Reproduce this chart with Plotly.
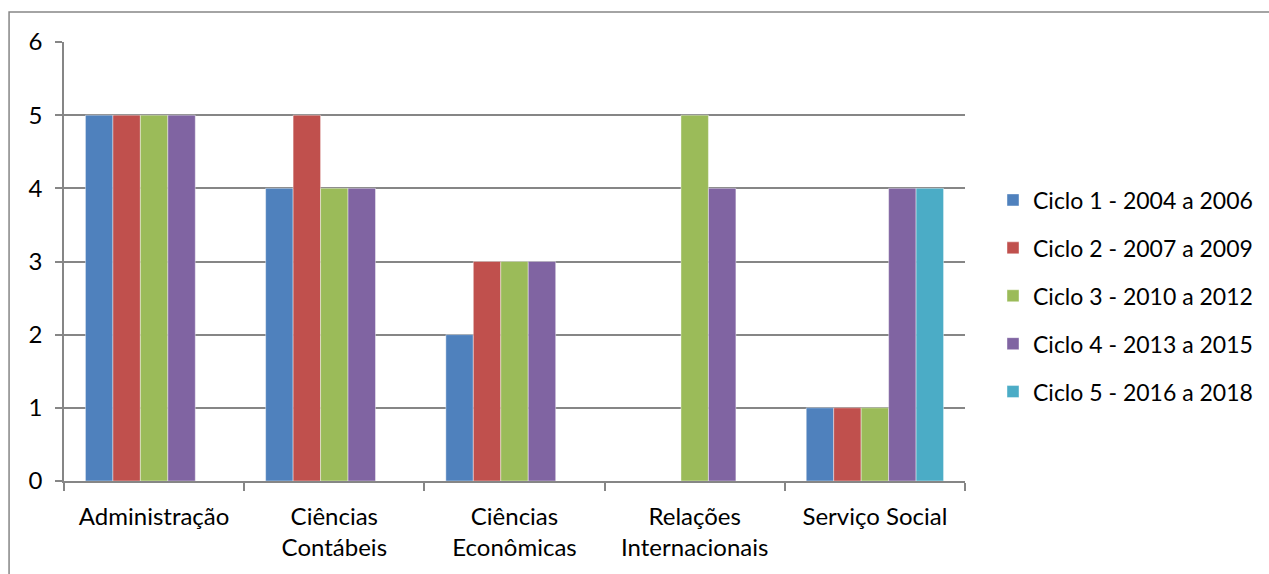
import plotly.graph_objects as go

categories = ["Administração", "Ciências<br>Contábeis", "Ciências<br>Econômicas",
              "Relações<br>Internacionais", "Serviço Social"]
series_names = ["Ciclo 1 - 2004 a 2006", "Ciclo 2 - 2007 a 2009", "Ciclo 3 - 2010 a 2012",
                "Ciclo 4 - 2013 a 2015", "Ciclo 5 - 2016 a 2018"]
ciclo1 = [5, 4, 2, None, 1]
ciclo2 = [5, 5, 3, None, 1]
ciclo3 = [5, 4, 3, 5, 1]
ciclo4 = [5, 4, 3, 4, 4]
ciclo5 = [None, None, None, None, 4]
colors = ["#4F81BD", "#C0504D", "#9BBB59", "#8064A2", "#4BACC6"]

FONT = "Lato"
fig = go.Figure()
for i, (name, vals) in enumerate(zip(series_names, [ciclo1, ciclo2, ciclo3, ciclo4, ciclo5])):
    fig.add_trace(go.Bar(x=categories, y=vals, name=name, legendgroup=f"g{i}",
                         marker=dict(color=colors[i], line=dict(color="rgba(255,255,255,0.6)", width=0.7))))

W, H = 1269, 574
L, R, T, B = 64, 966, 42, 481
pw, ph = R - L, B - T

fig.update_layout(
    width=W, height=H,
    margin=dict(l=L, r=W - R, t=T, b=H - B),
    paper_bgcolor="white", plot_bgcolor="white",
    barmode="group", bargap=0.238, bargroupgap=0,
    font=dict(family=FONT, size=24, color="#000000"),
    showlegend=True,
    legend=dict(x=(993 - L) / pw, y=(B - 178.5) / ph, xanchor="left", yanchor="top",
                font=dict(size=23), tracegroupgap=15, itemwidth=30),
    xaxis=dict(showgrid=False, showline=True, linecolor="#868686", linewidth=1.5,
               ticks="outside", ticklen=8, tickcolor="#868686", tickwidth=1.5,
               tickson="boundaries", tickfont=dict(size=24), ticklabelstandoff=13,
               fixedrange=True),
    yaxis=dict(range=[0, 6], dtick=1, showgrid=True, gridcolor="#868686", gridwidth=1.5,
               showline=True, linecolor="#868686", linewidth=1.5,
               ticks="outside", ticklen=7, tickcolor="#868686", tickwidth=1.5,
               tickfont=dict(size=24), ticklabelstandoff=8, zeroline=False),
    shapes=[dict(type="rect", xref="paper", yref="paper",
                 x0=(9 - L) / pw, x1=(W + 20 - L) / pw,
                 y0=(B - (H + 20)) / ph, y1=(B - 12) / ph,
                 line=dict(color="#868686", width=1.5), fillcolor="rgba(0,0,0,0)", layer="below")],
)
fig.write_html("out.html", config={"displayModeBar": False},
               post_script="document.body.style.margin='0';document.body.style.overflow='hidden';")
